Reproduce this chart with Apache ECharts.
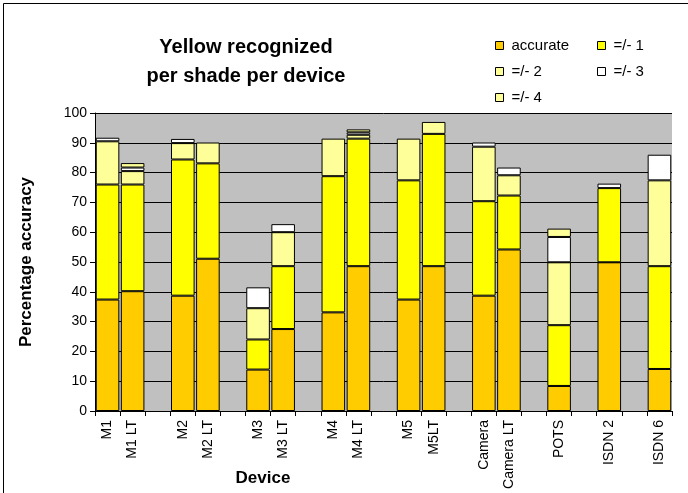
<!DOCTYPE html>
<html><head><meta charset="utf-8">
<script src="https://cdn.jsdelivr.net/npm/echarts@6/dist/echarts.min.js"></script>
<style>html,body{margin:0;padding:0;background:#fff}#c{width:688px;height:493px}</style>
</head><body><div id="c"></div>
<script>
var categories = ['M1','M1 LT','','M2','M2 LT','','M3','M3 LT','','M4','M4 LT','','M5','M5LT','','Camera','Camera LT','','POTS','','ISDN 2','','ISDN 6'];
var accurate = [37.4,40.2,null,38.7,51.1,null,13.9,27.5,null,33.1,48.6,null,37.4,48.6,null,38.7,54.2,null,8.4,null,49.9,null,14.1];
var pm1 =      [38.6,35.8,null,45.7,32.0,null,10.1,21.1,null,45.7,42.8,null,40.0,44.4,null,31.7,18.1,null,20.4,null,24.9,null,34.5];
var pm2 =      [14.5,4.5,null,5.5,7.0,null,10.5,11.4,null,12.6,1.3,null,14.0,4.0,null,18.3,6.8,null,21.1,null,0,null,28.8];
var pm3 =      [1.2,1.2,null,1.4,0,null,7.0,2.7,null,0,0.8,null,0,0,null,1.4,2.6,null,8.5,null,1.5,null,8.6];
var pm4 =      [0,1.5,null,0,0,null,0,0,null,0,1.0,null,0,0,null,0,0,null,2.8,null,0,null,0];
var seriesNames = ['accurate','=/- 1','=/- 2','=/- 3','=/- 4'];
var seriesColors = ['#FFCC00','#FFFF00','#FFFF99','#FFFFFF','#FFFF99'];
var yTicks = [0,10,20,30,40,50,60,70,80,90,100];

var chart = echarts.init(document.getElementById('c'), null, {renderer:'canvas'});
var font = 'Liberation Sans, Arial, sans-serif';
var dataSets = [accurate, pm1, pm2, pm3, pm4];
var series = dataSets.map(function(d,i){
  return {name: seriesNames[i], type:'bar', stack:'s',
    data:d.map(function(v){return v ? v : '-';}), barCategoryGap:'6%',
    itemStyle:{color:seriesColors[i], borderColor:'#000', borderWidth:1},
    emphasis:{disabled:true}, animation:false};
});
var legendPos = [[495,38],[597,38],[495,64],[597,64],[495,90]];
var legends = seriesNames.map(function(n,i){
  return {data:[{name:n, icon:'rect'}], left:legendPos[i][0], top:legendPos[i][1], itemWidth:8, itemHeight:8, itemGap:0,
    itemStyle:{borderColor:'#000', borderWidth:1},
    textStyle:{fontFamily:font, fontSize:15, color:'#000', padding:[0,0,0,3]}, selectedMode:false, padding:0};
});
chart.setOption({
  animation:false,
  backgroundColor:'#fff',
  legend: legends,
  grid:{left:95, right:16, top:113, bottom:82, show:true, backgroundColor:'#C0C0C0', borderWidth:0},
  xAxis:{type:'category', data:categories,
    axisLine:{lineStyle:{color:'#000', width:1}},
    axisTick:{show:true, alignWithLabel:false, length:5, lineStyle:{color:'#000'}, interval:0},
    axisLabel:{rotate:90, interval:0, fontFamily:font, fontSize:14, color:'#000', margin:9}},
  yAxis:{type:'value', min:yTicks[0], max:yTicks[yTicks.length-1], interval:10,
    name:'Percentage accuracy', nameLocation:'middle', nameGap:60,
    nameTextStyle:{fontFamily:font, fontSize:17, fontWeight:'bold', color:'#000'},
    axisLine:{show:true, lineStyle:{color:'#000', width:1}},
    axisTick:{show:true, length:5, lineStyle:{color:'#000'}},
    axisLabel:{fontFamily:font, fontSize:14, color:'#000', margin:8},
    splitLine:{show:true, lineStyle:{color:'#000', width:1}}},
  series: series,
  graphic:[
    {type:'rect', left:1, top:1, shape:{x:0,y:0,width:685,height:490}, style:{fill:'none', stroke:'#000', lineWidth:1}, silent:true},
    {type:'text', style:{text:'Yellow recognized\nper shade per device', x:246, y:33, textAlign:'center', font:'bold 20px '+font, lineHeight:29, fill:'#000'}},
    {type:'text', style:{text:'Device', x:263, y:470, textAlign:'center', font:'bold 17px '+font, fill:'#000'}}
  ]
});
</script></body></html>
